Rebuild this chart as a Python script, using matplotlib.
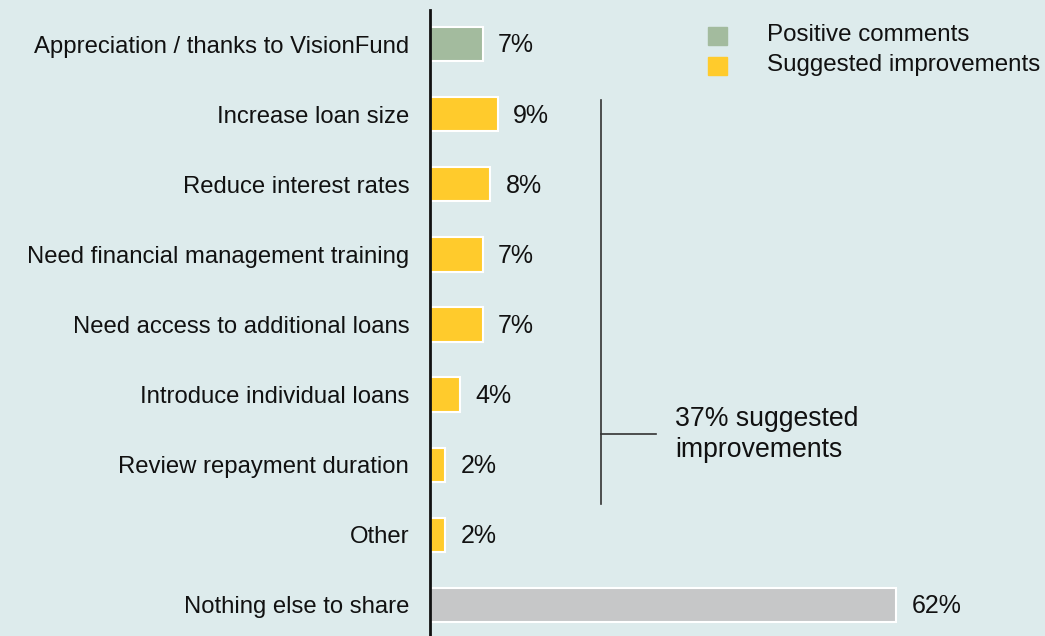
import matplotlib
matplotlib.use("Agg")
import matplotlib.pyplot as plt
from matplotlib.patches import Rectangle

categories = [
    "Appreciation / thanks to VisionFund",
    "Increase loan size",
    "Reduce interest rates",
    "Need financial management training",
    "Need access to additional loans",
    "Introduce individual loans",
    "Review repayment duration",
    "Other",
    "Nothing else to share",
]
values = [7, 9, 8, 7, 7, 4, 2, 2, 62]
groups = ["positive", "suggested", "suggested", "suggested", "suggested",
          "suggested", "suggested", "suggested", "none"]
legend_labels = ["Positive comments", "Suggested improvements"]
bracket_text = "37% suggested\nimprovements"

colors = {"positive": "#A3BB9E", "suggested": "#FFCB2C", "none": "#C6C7C8"}
bg = "#DDEBEC"

plt.rcParams['font.family'] = ['Liberation Sans', 'DejaVu Sans']

fig = plt.figure(figsize=(10.45, 6.36), dpi=100, facecolor=bg)
ax = fig.add_axes([430/1045, 0, 615/1045, 626/636])
ax.set_facecolor(bg)

ypos = list(range(len(categories)))
ax.barh(ypos, values, height=0.49,
        color=[colors[g] for g in groups], edgecolor="white", linewidth=1.5)
for y, v in zip(ypos, values):
    ax.annotate(f"{v}%", (v, y), xytext=(11, -1), textcoords="offset points",
                va="center", ha="left", fontsize=18, color="#111111")

ax.set_yticks(ypos)
ax.set_yticklabels(categories, fontsize=17.2, color="#111111")
ax.tick_params(axis="y", length=0, pad=15)
ax.set_xticks([])
ax.set_xlim(0, 615/7.52)
ax.set_ylim(8 + 31/70, -34/70)
for s in ["top", "right", "bottom"]:
    ax.spines[s].set_visible(False)
ax.spines["left"].set_linewidth(2)
ax.spines["left"].set_color("#111111")

# bracket
bx = (601-430)/7.52
ax.plot([bx, bx], [(100-44)/70, (503-44)/70], color="#333333", lw=1.2)
ax.plot([bx, (656-430)/7.52], [(433-44)/70]*2, color="#333333", lw=1.2)
ax.text((675-430)/7.52, (434-44)/70, bracket_text, fontsize=19.2, va="center",
        ha="left", color="#111111", linespacing=1.22)

# legend
for i, (lab, key) in enumerate(zip(legend_labels, ["positive", "suggested"])):
    yc = 36 + 30*i
    fig.patches.append(Rectangle((708/1045, 1 - (yc+9)/636), 19/1045, 18/636,
                                 transform=fig.transFigure, color=colors[key]))
    fig.text(767/1045, 1 - (yc-1)/636, lab, fontsize=17.4, va="center", ha="left",
             color="#111111")

fig.savefig("out.png", dpi=100, facecolor=bg)
